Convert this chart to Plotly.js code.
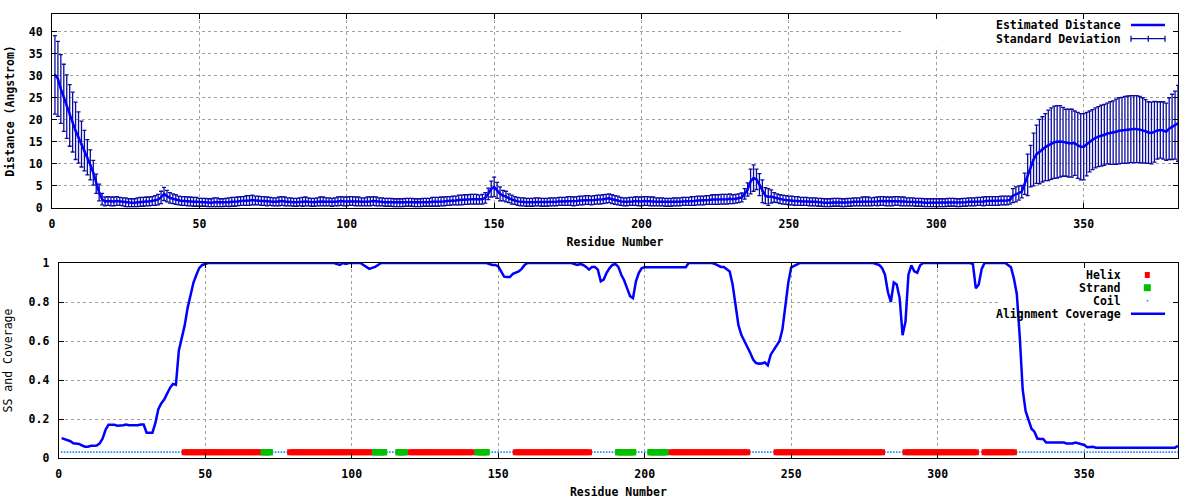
<!DOCTYPE html>
<html><head><meta charset="utf-8">
<script src="https://cdn.plot.ly/plotly-3.0.1.min.js"></script>
<style>html,body{margin:0;padding:0;background:#fff}#chart{width:1200px;height:500px}</style>
</head><body><div id="chart"></div>
<script>
// ---- data ----
const distance = [
30.2,29.3,27.0,25.0,23.0,21.0,19.5,17.5,16.0,14.5,
13.0,11.5,9.8,8.0,5.5,3.5,2.0,1.5,1.6,1.5,
1.5,1.6,1.5,1.4,1.3,1.2,1.2,1.2,1.3,1.4,
1.4,1.5,1.5,1.6,1.7,1.9,2.4,3.2,2.7,2.3,
2.1,1.9,1.7,1.6,1.6,1.5,1.5,1.4,1.4,1.3,
1.3,1.3,1.2,1.2,1.3,1.3,1.2,1.2,1.3,1.3,
1.4,1.4,1.5,1.6,1.6,1.7,1.7,1.8,1.7,1.7,
1.6,1.6,1.5,1.5,1.4,1.4,1.5,1.6,1.5,1.4,
1.4,1.3,1.3,1.4,1.4,1.5,1.4,1.3,1.3,1.4,
1.5,1.5,1.4,1.4,1.3,1.4,1.5,1.6,1.5,1.5,
1.6,1.6,1.5,1.5,1.4,1.4,1.5,1.5,1.6,1.5,
1.4,1.4,1.3,1.3,1.3,1.2,1.2,1.2,1.2,1.3,
1.3,1.3,1.2,1.2,1.2,1.3,1.3,1.3,1.4,1.4,
1.4,1.5,1.5,1.6,1.6,1.7,1.7,1.8,1.8,1.9,
1.9,2.0,2.0,2.0,1.9,2.0,2.3,3.2,4.3,4.8,
4.0,3.2,2.8,2.6,2.2,1.9,1.7,1.5,1.4,1.4,
1.3,1.3,1.3,1.4,1.4,1.3,1.3,1.3,1.4,1.4,
1.4,1.5,1.5,1.5,1.6,1.6,1.5,1.6,1.7,1.7,
1.8,1.8,1.7,1.8,1.9,1.9,2.0,2.1,2.2,2.0,
1.8,1.7,1.5,1.4,1.4,1.5,1.5,1.6,1.5,1.5,
1.6,1.6,1.5,1.5,1.4,1.4,1.4,1.3,1.3,1.3,
1.4,1.4,1.4,1.5,1.5,1.5,1.6,1.6,1.7,1.7,
1.7,1.8,1.8,1.9,1.9,1.9,2.0,2.0,2.0,2.1,
2.0,2.1,2.2,2.4,3.2,4.2,6.0,6.8,6.5,5.3,
3.8,2.8,2.5,2.6,2.4,2.2,2.0,1.9,1.8,1.7,
1.7,1.6,1.6,1.5,1.5,1.5,1.4,1.4,1.4,1.3,
1.3,1.2,1.2,1.2,1.3,1.3,1.3,1.2,1.2,1.3,
1.3,1.4,1.4,1.4,1.5,1.5,1.5,1.4,1.5,1.5,
1.6,1.6,1.5,1.5,1.5,1.6,1.6,1.5,1.5,1.4,
1.4,1.4,1.3,1.3,1.3,1.2,1.2,1.2,1.2,1.2,
1.2,1.2,1.2,1.3,1.3,1.3,1.2,1.2,1.3,1.3,
1.4,1.4,1.4,1.5,1.5,1.5,1.6,1.6,1.6,1.6,
1.6,1.7,1.7,1.7,1.8,2.8,3.1,3.4,3.7,5.5,
7.5,9.5,11.0,12.2,12.8,13.3,13.8,14.2,14.6,14.9,
15.0,15.1,15.0,14.8,14.7,14.7,14.7,14.2,13.9,13.9,
14.5,15.1,15.5,15.9,16.2,16.4,16.6,16.9,17.0,17.1,
17.3,17.5,17.6,17.7,17.8,17.9,17.9,17.9,17.8,17.6,
17.4,17.1,17.0,17.3,17.6,17.7,17.6,17.3,18.0,18.4,
18.8,19.2];

const stdDev = [
8.9,8.5,7.8,7.6,7.2,7.0,6.8,6.5,5.8,5.2,
4.6,4.0,3.4,2.8,2.2,1.9,1.3,1.0,1.0,1.0,
1.0,1.0,0.9,0.9,1.0,0.9,0.9,0.9,1.0,1.0,
1.0,1.0,1.0,1.0,1.1,1.2,1.4,1.5,1.3,1.2,
1.1,1.1,1.0,1.0,1.0,1.0,1.0,1.0,1.0,0.9,
0.9,0.9,0.9,0.9,1.0,1.0,0.9,0.9,0.9,1.0,
1.0,1.0,1.0,1.0,1.0,1.1,1.1,1.1,1.0,1.0,
1.0,1.0,1.0,0.9,0.9,0.9,1.0,1.0,1.0,0.9,
0.9,0.9,0.9,0.9,1.0,1.0,0.9,0.9,0.9,0.9,
1.0,1.0,0.9,0.9,0.9,0.9,1.0,1.0,1.0,1.0,
1.0,1.0,1.0,1.0,0.9,0.9,1.0,1.0,1.0,1.0,
0.9,0.9,0.9,0.9,0.9,0.9,0.9,0.9,0.9,0.9,
0.9,0.9,0.9,0.9,0.9,0.9,0.9,0.9,1.0,1.0,
1.0,1.0,1.0,1.0,1.0,1.0,1.0,1.1,1.1,1.1,
1.1,1.1,1.1,1.1,1.0,1.1,1.2,1.3,1.8,2.2,
1.8,1.6,1.2,1.2,1.0,1.0,0.9,0.9,0.9,0.9,
0.9,0.9,0.9,0.9,0.9,0.9,0.9,0.9,0.9,0.9,
0.9,0.9,0.9,0.9,1.0,1.0,1.0,1.0,1.0,1.0,
1.0,1.0,1.0,1.0,1.0,1.0,1.0,1.0,1.0,1.0,
1.0,1.0,0.9,0.9,0.9,0.9,0.9,1.0,1.0,1.0,
1.0,1.0,1.0,1.0,0.9,0.9,0.9,0.9,0.9,0.9,
0.9,0.9,0.9,0.9,0.9,0.9,1.0,1.0,1.0,1.0,
1.0,1.0,1.0,1.1,1.1,1.1,1.1,1.1,1.1,1.1,
1.0,1.0,1.0,1.0,1.2,1.5,2.8,3.0,2.3,2.5,
2.6,1.8,1.9,1.5,1.1,1.0,1.0,1.0,1.0,1.0,
1.0,1.0,1.0,0.9,0.9,0.9,0.9,0.9,0.9,0.9,
0.9,0.9,0.9,0.9,0.9,0.9,0.9,0.9,0.9,0.9,
0.9,0.9,0.9,0.9,1.0,1.0,1.0,0.9,0.9,1.0,
1.0,1.0,1.0,1.0,1.0,1.0,1.0,1.0,1.0,0.9,
0.9,0.9,0.9,0.9,0.9,0.9,0.9,0.9,0.9,0.9,
0.9,0.9,0.9,0.9,0.9,0.9,0.9,0.9,0.9,0.9,
0.9,0.9,0.9,0.9,0.9,1.0,1.0,1.0,1.0,1.0,
1.0,1.0,1.0,1.0,0.9,1.6,1.7,1.6,1.4,2.4,
4.7,4.7,6.0,6.6,7.3,7.4,7.6,8.0,8.1,8.2,
8.2,8.1,7.8,7.6,7.7,7.7,7.3,7.5,7.5,7.5,
7.2,6.9,6.8,6.8,6.8,6.9,6.9,6.9,7.1,7.2,
7.4,7.5,7.5,7.6,7.6,7.6,7.6,7.6,7.5,7.4,
7.2,7.0,7.0,6.9,6.5,6.4,6.5,6.5,7.0,7.4,
7.7,8.6];

const coverage = [
0.102,0.097,0.094,0.086,0.076,0.074,0.072,0.064,0.058,0.058,
0.063,0.063,0.064,0.075,0.100,0.145,0.170,0.170,0.170,0.166,
0.166,0.168,0.172,0.168,0.168,0.168,0.168,0.172,0.172,0.130,
0.130,0.130,0.180,0.250,0.280,0.300,0.330,0.360,0.380,0.375,
0.550,0.610,0.680,0.770,0.840,0.900,0.940,0.975,0.990,0.995,
1,1,1,1,1,1,1,1,1,1,
1,1,1,1,1,1,1,1,1,1,
1,1,1,1,1,1,1,1,1,1,
1,1,1,1,1,1,1,1,1,1,
1,1,1,1,0.995,0.99,1,0.995,1,1,
1,1,1,0.99,0.98,0.97,0.975,0.98,0.99,1,
1,1,1,1,1,1,1,1,1,1,
1,1,1,1,1,1,1,1,1,1,
1,1,1,1,1,1,1,1,1,1,
1,1,1,1,1,1,0.995,0.99,0.99,0.983,
0.957,0.93,0.928,0.928,0.945,0.95,0.957,0.97,0.99,1,
1,1,1,1,1,1,1,1,1,1,
1,1,1,1,1,0.995,0.99,0.995,0.99,0.98,
0.966,0.98,0.98,0.966,0.906,0.915,0.95,0.974,0.99,0.995,
0.98,0.94,0.91,0.87,0.83,0.82,0.906,0.95,0.974,0.978,
0.978,0.978,0.978,0.978,0.978,0.978,0.978,0.978,0.978,0.978,
0.978,0.978,0.978,0.978,1,1,1,1,1,1,
1,1,1,0.995,0.988,0.98,0.98,0.97,0.957,0.89,
0.77,0.68,0.63,0.60,0.575,0.54,0.505,0.487,0.484,0.485,
0.49,0.475,0.53,0.555,0.578,0.60,0.66,0.77,0.90,0.978,
0.985,0.99,1,1,1,1,1,1,1,1,
1,1,1,1,1,1,1,1,1,1,
1,1,1,1,1,1,1,1,0.995,0.99,
0.974,0.94,0.85,0.80,0.90,0.89,0.82,0.63,0.70,0.94,
0.988,0.957,0.95,0.988,1,1,1,1,1,1,
1,1,1,1,1,1,1,1,1,1,
1,0.995,0.87,0.89,0.97,1,1,1,1,1,
1,1,1,0.99,0.978,0.92,0.84,0.62,0.35,0.24,
0.20,0.15,0.135,0.10,0.098,0.098,0.079,0.079,0.079,0.079,
0.079,0.079,0.079,0.075,0.075,0.075,0.079,0.075,0.072,0.067,
0.055,0.055,0.058,0.053,0.053,0.053,0.053,0.053,0.053,0.053,
0.053,0.053,0.053,0.053,0.053,0.053,0.053,0.053,0.053,0.053,
0.053,0.053,0.053,0.053,0.053,0.053,0.053,0.053,0.053,0.053,
0.053,0.062];

// secondary structure segments (residue ranges)
const helixStart  = [43, 79, 120, 156, 209, 245, 289, 316];
const helixEnd    = [69, 107, 141, 181, 235, 281, 313, 326];
const strandStart = [70, 108, 116, 143, 191, 202];
const strandEnd   = [72, 111, 118, 146, 196, 207];
const ssLevel = 0.03;

const xTickVals = [0, 50, 100, 150, 200, 250, 300, 350];
const distTickVals = [0, 5, 10, 15, 20, 25, 30, 35, 40];
const covTickVals = [0, 0.2, 0.4, 0.6, 0.8, 1];

const legendTop = ['Estimated Distance', 'Standard Deviation'];
const legendBottom = ['Helix', 'Strand', 'Coil', 'Alignment Coverage'];

// ---- build per-residue series ----
const residues = distance.map((_, i) => i + 1);
const covRes = coverage.map((_, i) => i + 1);
const ssType = covRes.map(() => 'C');
helixStart.forEach((s, k) => { for (let r = s; r <= helixEnd[k]; r++) ssType[r - 1] = 'H'; });
strandStart.forEach((s, k) => { for (let r = s; r <= strandEnd[k]; r++) ssType[r - 1] = 'E'; });
const pick = t => covRes.filter((r, i) => ssType[i] === t);
const helixX = pick('H'), strandX = pick('E'), coilX = pick('C');

// ---- layout helpers (pixel -> paper) ----
const M = {l: 30, r: 10, t: 10, b: 30};
const W = 1200, H = 500;
const PW = W - M.l - M.r, PH = H - M.t - M.b;
const px = x => (x - M.l) / PW;
const py = y => (H - M.b - y) / PH;

const mono = 'DejaVu Sans Mono, Liberation Mono, monospace';
const fnt = {family: mono, size: 11.5, color: '#000', weight: 'bold'};
const fntN = {family: mono, size: 11.5, color: '#000', weight: 'normal'};

const navy = '#0c0c9c';
const blue = '#0000ff';

const traces = [
  {x: residues, y: distance, type: 'scatter', mode: 'markers',
   marker: {size: 2, color: navy},
   error_y: {type: 'data', array: stdDev, visible: true, color: navy, thickness: 1.3, width: 2},
   xaxis: 'x', yaxis: 'y', name: 'Standard Deviation', hoverinfo: 'skip'},
  {x: residues, y: distance, type: 'scatter', mode: 'lines',
   line: {color: blue, width: 2.5}, xaxis: 'x', yaxis: 'y', name: 'Estimated Distance'},
  {x: coilX, y: coilX.map(() => ssLevel), type: 'scatter', mode: 'markers',
   marker: {symbol: 'square', size: 1.6, color: '#1e90ff'}, xaxis: 'x2', yaxis: 'y2', name: 'Coil'},
  {x: helixX, y: helixX.map(() => ssLevel), type: 'scatter', mode: 'markers',
   marker: {symbol: 'square', size: 6, color: '#ff0000'}, xaxis: 'x2', yaxis: 'y2', name: 'Helix'},
  {x: strandX, y: strandX.map(() => ssLevel), type: 'scatter', mode: 'markers',
   marker: {symbol: 'square', size: 6.5, color: '#00c000'}, xaxis: 'x2', yaxis: 'y2', name: 'Strand'},
  {x: covRes, y: coverage, type: 'scatter', mode: 'lines', cliponaxis: false,
   line: {color: blue, width: 2.5}, xaxis: 'x2', yaxis: 'y2', name: 'Alignment Coverage'}
];

const axBase = {
  showline: true, linecolor: '#000', linewidth: 1, mirror: 'allticks',
  ticks: 'inside', ticklen: 5, tickcolor: '#000', tickwidth: 1,
  showgrid: true, gridcolor: '#a0a0a0', griddash: '3px,3px', gridwidth: 1,
  zeroline: false, automargin: false, tickfont: fnt, fixedrange: true
};

const layout = {
  width: W, height: H, margin: M, showlegend: false,
  paper_bgcolor: '#fff', plot_bgcolor: '#fff',
  xaxis: Object.assign({}, axBase, {domain: [px(52), px(1178)], range: [0, 382], anchor: 'y',
    tickmode: 'array', tickvals: xTickVals, ticklabelstandoff: 5,
    title: {text: 'Residue Number', font: fnt, standoff: 8}}),
  yaxis: Object.assign({}, axBase, {domain: [py(208), py(14)], range: [0, 44], anchor: 'x',
    tickmode: 'array', tickvals: distTickVals, ticklabelstandoff: 6,
    title: {text: 'Distance (Angstrom)', font: fnt, standoff: 11}}),
  xaxis2: Object.assign({}, axBase, {domain: [px(58.7), px(1178)], range: [0, 382], anchor: 'y2',
    tickmode: 'array', tickvals: xTickVals, ticklabelstandoff: 5,
    title: {text: 'Residue Number', font: fnt, standoff: 8}}),
  yaxis2: Object.assign({}, axBase, {domain: [py(458), py(263)], range: [0, 1], anchor: 'x2',
    tickmode: 'array', tickvals: covTickVals, ticklabelstandoff: 6,
    title: {text: 'SS and Coverage', font: fntN, standoff: 13}}),
  shapes: [
    // opaque key boxes (between grid and traces)
    {type: 'rect', xref: 'x', yref: 'y', x0: 289, x1: 382, y0: 36.6, y1: 44, layer: 'between',
     fillcolor: '#fff', line: {width: 0}},
    {type: 'rect', xref: 'x2', yref: 'y2', x0: 321.3, x1: 382, y0: 0.705, y1: 1, layer: 'between',
     fillcolor: '#fff', line: {width: 0}},
    // top key samples
    {type: 'line', xref: 'paper', yref: 'paper', x0: px(1131), x1: px(1165), y0: py(25), y1: py(25),
     line: {color: blue, width: 2.5}},
    {type: 'line', xref: 'paper', yref: 'paper', x0: px(1131), x1: px(1165), y0: py(38.7), y1: py(38.7),
     line: {color: navy, width: 1.3}},
    {type: 'line', xref: 'paper', yref: 'paper', x0: px(1131), x1: px(1131), y0: py(35.7), y1: py(41.7),
     line: {color: navy, width: 1.3}},
    {type: 'line', xref: 'paper', yref: 'paper', x0: px(1165), x1: px(1165), y0: py(35.7), y1: py(41.7),
     line: {color: navy, width: 1.3}},
    {type: 'line', xref: 'paper', yref: 'paper', x0: px(1148.3), x1: px(1148.3), y0: py(35.7), y1: py(41.7),
     line: {color: navy, width: 1.3}},
    // bottom key samples
    {type: 'rect', xref: 'paper', yref: 'paper', x0: px(1144.8), x1: px(1149.8), y0: py(278), y1: py(272),
     fillcolor: '#ff0000', line: {width: 0}},
    {type: 'rect', xref: 'paper', yref: 'paper', x0: px(1143.8), x1: px(1150.8), y0: py(291.2), y1: py(284.2),
     fillcolor: '#00c000', line: {width: 0}},
    {type: 'rect', xref: 'paper', yref: 'paper', x0: px(1146.7), x1: px(1148.3), y0: py(301.5), y1: py(299.9),
     fillcolor: '#1e90ff', line: {width: 0}},
    {type: 'line', xref: 'paper', yref: 'paper', x0: px(1131), x1: px(1165), y0: py(313.7), y1: py(313.7),
     line: {color: blue, width: 2.5}}
  ],
  annotations: [
    {text: legendTop[0], xref: 'paper', yref: 'paper', x: px(1123), y: py(25), xanchor: 'right', yanchor: 'middle', showarrow: false, font: fnt},
    {text: legendTop[1], xref: 'paper', yref: 'paper', x: px(1123), y: py(38.7), xanchor: 'right', yanchor: 'middle', showarrow: false, font: fnt},
    {text: legendBottom[0], xref: 'paper', yref: 'paper', x: px(1123), y: py(275), xanchor: 'right', yanchor: 'middle', showarrow: false, font: fnt},
    {text: legendBottom[1], xref: 'paper', yref: 'paper', x: px(1123), y: py(287.7), xanchor: 'right', yanchor: 'middle', showarrow: false, font: fnt},
    {text: legendBottom[2], xref: 'paper', yref: 'paper', x: px(1123), y: py(300.7), xanchor: 'right', yanchor: 'middle', showarrow: false, font: fnt},
    {text: legendBottom[3], xref: 'paper', yref: 'paper', x: px(1123), y: py(313.7), xanchor: 'right', yanchor: 'middle', showarrow: false, font: fnt}
  ]
};

Plotly.newPlot('chart', traces, layout, {staticPlot: true, displayModeBar: false});
</script>
</body></html>
